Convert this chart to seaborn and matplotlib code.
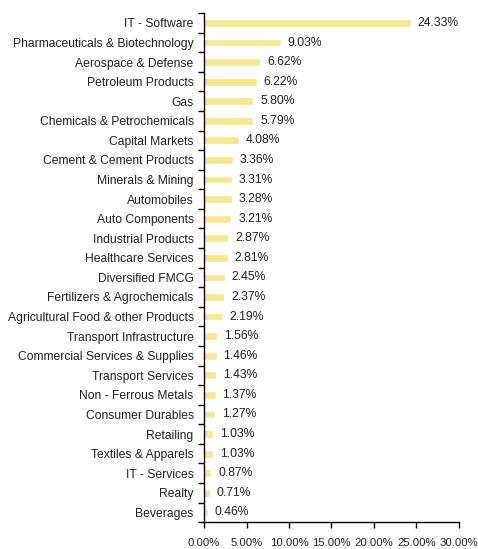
import matplotlib
matplotlib.use("Agg")
import matplotlib.pyplot as plt
import seaborn as sns
import pandas as pd
import numpy as np
from matplotlib.ticker import FixedLocator

categories = ["IT - Software", "Pharmaceuticals & Biotechnology", "Aerospace & Defense",
              "Petroleum Products", "Gas", "Chemicals & Petrochemicals", "Capital Markets",
              "Cement & Cement Products", "Minerals & Mining", "Automobiles", "Auto Components",
              "Industrial Products", "Healthcare Services", "Diversified FMCG",
              "Fertilizers & Agrochemicals", "Agricultural Food & other Products",
              "Transport Infrastructure", "Commercial Services & Supplies", "Transport Services",
              "Non - Ferrous Metals", "Consumer Durables", "Retailing", "Textiles & Apparels",
              "IT - Services", "Realty", "Beverages"]
values = [24.33, 9.03, 6.62, 6.22, 5.80, 5.79, 4.08, 3.36, 3.31, 3.28, 3.21, 2.87, 2.81,
          2.45, 2.37, 2.19, 1.56, 1.46, 1.43, 1.37, 1.27, 1.03, 1.03, 0.87, 0.71, 0.46]
xticks = [0, 5, 10, 15, 20, 25, 30]

sns.set_style("white")
plt.rcParams['font.family'] = ['Liberation Sans', 'DejaVu Sans']

df = pd.DataFrame({"cat": categories, "val": values})
fig = plt.figure(figsize=(4.78, 5.49), dpi=100)
ax = fig.add_axes([0.427, 0.049, 0.533, 0.927])
sns.barplot(data=df, y="cat", x="val", orient="h", color="#F5E98C", saturation=1,
            width=0.40, ax=ax)
for p, v in zip(ax.patches, values):
    ax.text(p.get_width() + 0.8, p.get_y() + p.get_height() / 2, f"{v:.2f}%",
            va="center", ha="left", fontsize=8.7, color="#222222")
ax.set_xlim(0, 30)
ax.set_ylim(len(categories) - 0.5, -0.5)
ax.set_xticks(xticks)
ax.set_xticklabels([f"{t:.2f}%" for t in xticks], fontsize=8.2, color="#222222")
ax.set_ylabel("")
ax.set_xlabel("")
ax.tick_params(axis="y", which="major", length=0, labelsize=8.7, pad=7.5, labelcolor="#222222")
ax.yaxis.set_minor_locator(FixedLocator(np.arange(-0.5, len(categories), 1.0)))
ax.tick_params(axis="y", which="minor", length=4, width=1, color="black", direction="out", left=True)
ax.tick_params(axis="x", which="major", length=4, width=1, color="black", direction="out",
               bottom=True, pad=7.5)
for s in ["top", "right"]:
    ax.spines[s].set_visible(False)
for s in ["left", "bottom"]:
    ax.spines[s].set_color("black")
    ax.spines[s].set_linewidth(1.0)
fig.savefig("out.png", dpi=100)
